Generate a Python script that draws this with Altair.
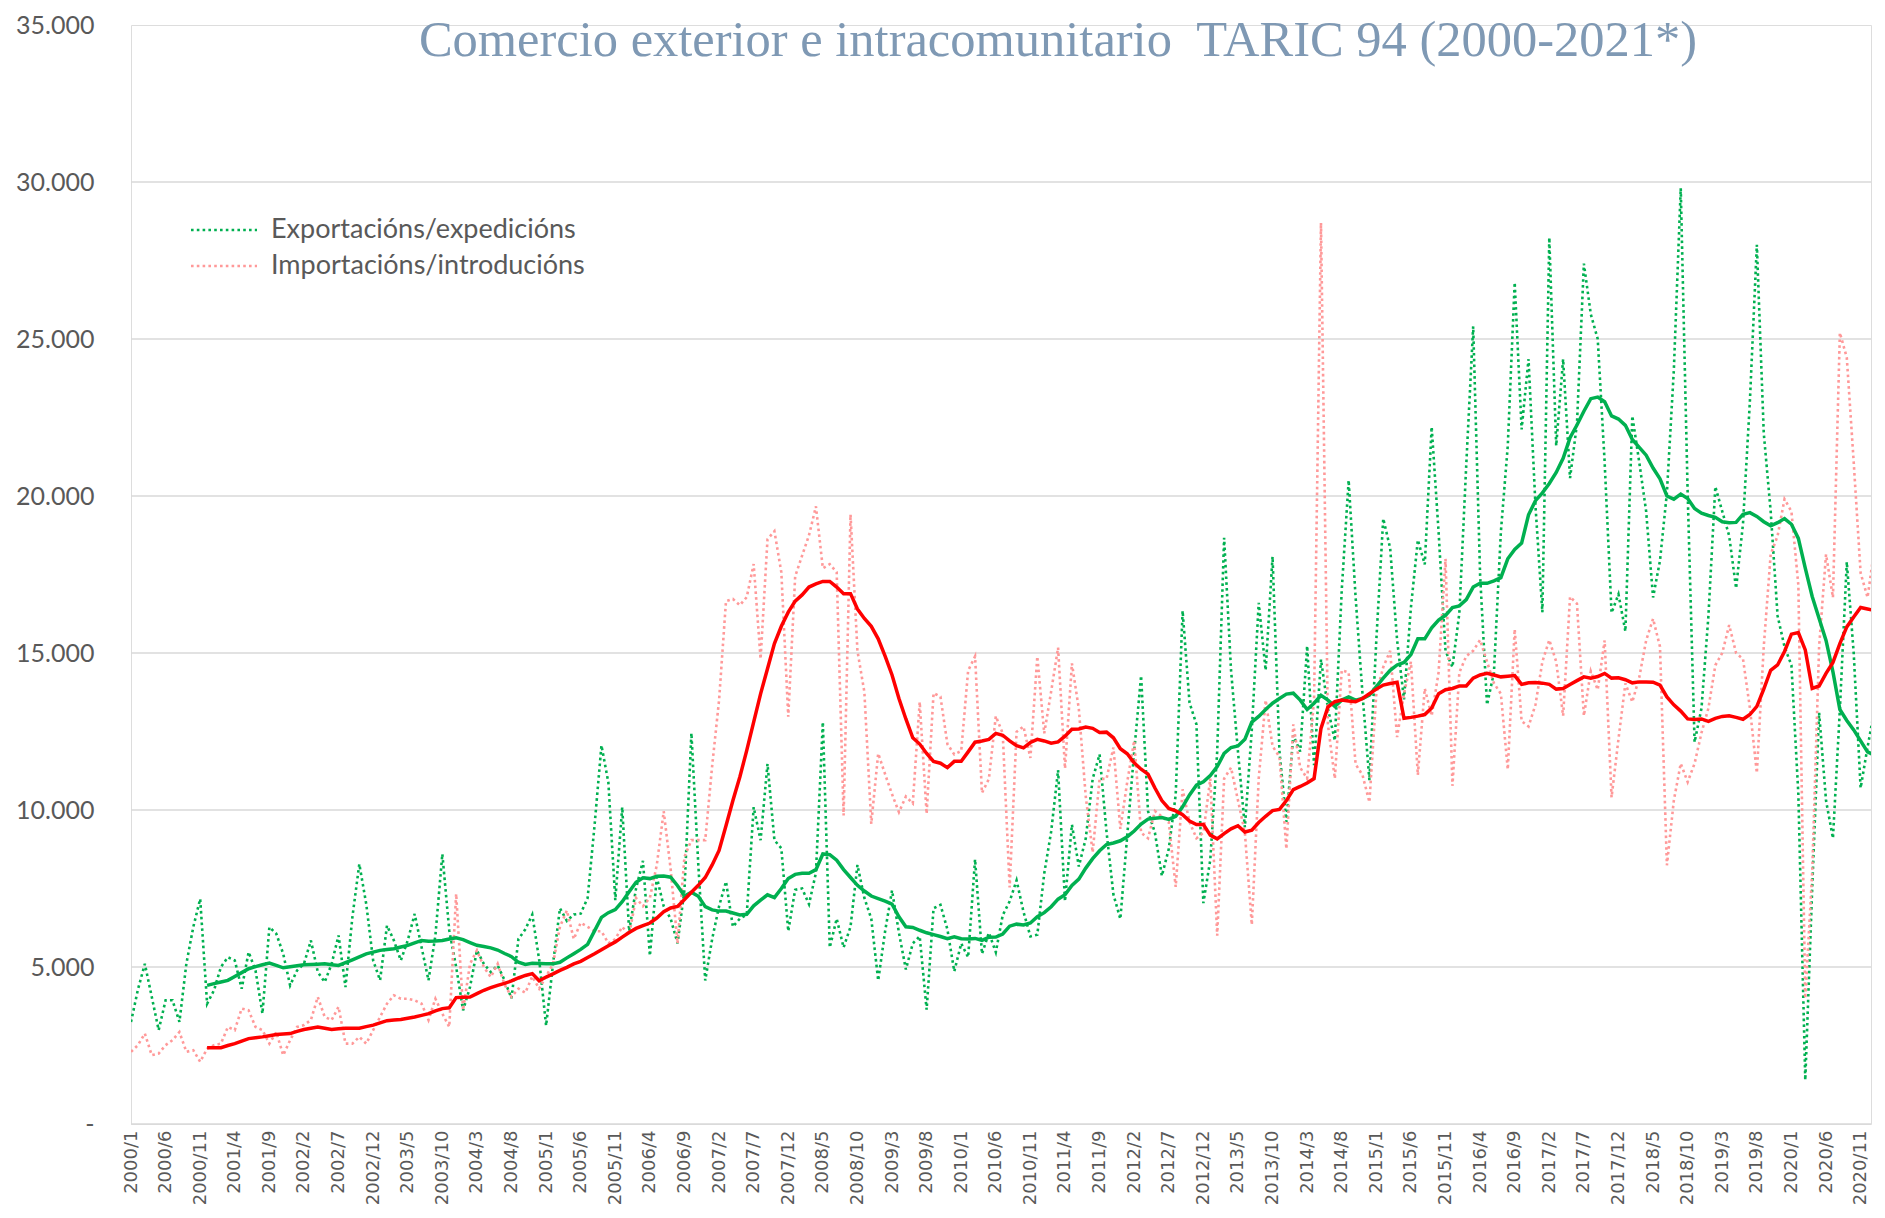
import altair as alt
import pandas as pd

# ---------------- data ----------------
first_year = 2000
series_names = ["Exportacións/expedicións", "Importacións/introducións"]
# the two spaces before "TARIC" are kept visible with a no-break space
title_text = "Comercio exterior e intracomunitario\u00a0 TARIC 94 (2000-2021*)"

# monthly values, index 0 = 2000/1
exports = [
    3250, 4280, 5100, 4050, 2990, 3940, 3940, 3250, 5100, 6270,
    7170, 3830, 4260, 5000, 5310, 5210, 4310, 5475, 4890, 3515,
    6270, 6060, 5420, 4415, 4890, 5100, 5845, 4840, 4520, 5100,
    6005, 4360, 6590, 8280, 7010, 5210, 4575, 6320, 5845, 5210,
    5845, 6690, 5630, 4575, 6005, 8600, 6165, 5000, 3620, 4360,
    5530, 5100, 4840, 5050, 4575, 4000, 5890, 6200, 6670, 5230,
    3130, 5100, 6870, 6470, 6670, 6700, 7200, 9500, 12060, 10875,
    7130, 10090, 6140, 7500, 8380, 5360, 7855, 6935, 6540, 5755,
    7460, 12450, 8250, 4570, 5890, 6935, 7720, 6280, 6540, 6670,
    10090, 9040, 11470, 9040, 8780, 6140, 7460, 7500, 7000, 8000,
    12800, 5620, 6540, 5620, 6280, 8250, 7200, 6540, 4570, 6140,
    7440, 6090, 4920, 5750, 5975, 3640, 6870, 6980, 6200, 4860,
    5750, 5310, 8430, 5420, 6090, 5470, 6650, 7090, 7760, 6760,
    5975, 6030, 7980, 9310, 11270, 7090, 9535, 8200, 9095, 10990,
    11770, 9310, 7310, 6530, 9200, 11860, 14275, 9965, 9275, 7900,
    8760, 10480, 16345, 13415, 12725, 7035, 8415, 11860, 18670, 14450,
    11860, 9450, 12550, 16600, 14450, 18070, 11860, 9620, 12380, 11860,
    15225, 11430, 14795, 13240, 12210, 17000, 20500, 16790, 13700, 10945,
    15415, 19280, 18340, 15415, 13520, 16450, 18600, 17820, 22200, 18850,
    15070, 14550, 16270, 21000, 25400, 17480, 13350, 14380, 18850, 21600,
    26800, 22120, 24360, 19700, 16300, 28230, 21600, 24360, 20570, 22300,
    27400, 25790, 25000, 21080, 16280, 16870, 15690, 22550, 21080, 19510,
    16770, 17940, 20100, 24000, 29800, 20100, 12160, 13240, 16180, 20300,
    19510, 18730, 17060, 19120, 23040, 28000, 22000, 19510, 16180, 15200,
    14610, 10500, 1400, 7500, 13100, 10300, 9100, 13200, 17900, 15000,
    10700, 12000, 13200,
]

imports = [
    2300, 2510, 2880, 2190, 2245, 2510, 2670, 2930, 2300, 2350,
    1980, 2400, 2510, 2560, 3090, 2990, 3675, 3620, 3090, 2990,
    2560, 2930, 2190, 2670, 3090, 3150, 3310, 4045, 3410, 3310,
    3730, 2560, 2560, 2775, 2560, 2990, 3410, 3830, 4100, 3990,
    3990, 3940, 3830, 3310, 3990, 3515, 3090, 7330, 3620, 5100,
    5530, 5000, 4680, 5100, 4440, 4050, 4310, 4180, 4700, 4310,
    4700, 5100, 6280, 6800, 5890, 6410, 6280, 6140, 6140, 5755,
    5890, 6280, 6020, 7200, 6935, 7200, 8250, 9960, 8120, 5755,
    8510, 9040, 9040, 9040, 11400, 13500, 16650, 16720, 16520, 16780,
    17830, 14810, 18620, 18880, 17570, 12970, 17440, 18100, 18750, 19670,
    17700, 17830, 17570, 9825, 19410, 15070, 13760, 9560, 11800, 11140,
    10500, 9930, 10430, 10210, 13440, 9880, 13720, 13610, 12100, 11770,
    11880, 14440, 14890, 10545, 10990, 12990, 12440, 7535, 12490, 12660,
    11660, 14890, 12440, 13775, 15170, 11320, 14670, 13220, 10430, 8650,
    10990, 10990, 11990, 9400, 10900, 12210, 9275, 9100, 9965, 9790,
    9620, 7550, 10660, 9620, 9100, 9275, 11000, 6000, 11000, 11350,
    10310, 9275, 6345, 11000, 13500, 12035, 11690, 8760, 12725, 11350,
    11000, 13500, 28700, 12725, 11000, 14450, 14380, 11460, 11115, 10250,
    13700, 14550, 15070, 12320, 13700, 14720, 11115, 13870, 13000, 14380,
    18000, 10770, 14380, 14900, 15070, 15415, 14720, 14040, 13700, 11290,
    15760, 12830, 12660, 13350, 14720, 15415, 14720, 13000, 16790, 16570,
    13000, 14420, 13830, 15400, 10400, 12260, 14030, 13440, 14220, 15400,
    16090, 15200, 8240, 10300, 11480, 10890, 11480, 12460, 13240, 14610,
    15000, 15890, 15000, 14810, 13240, 11180, 15200, 18140, 18730, 19900,
    19510, 17160, 4000, 8000, 15200, 18140, 16770, 25200, 24410, 21080,
    17550, 16770, 18340,
]

# 12-month moving averages as drawn, starting at 2000/12 (index 11)
ma_start = 11
exports_ma = [
    4415, 4470, 4520, 4575, 4700, 4820, 4945, 5010, 5070, 5125,
    5050, 4975, 5010, 5040, 5070, 5080, 5090, 5100, 5075, 5050,
    5140, 5230, 5325, 5420, 5475, 5530, 5555, 5580, 5635, 5690,
    5770, 5845, 5820, 5830, 5845, 5890, 5930, 5870, 5780, 5690,
    5650, 5610, 5540, 5430, 5330, 5150, 5080, 5120, 5110, 5100,
    5100, 5150, 5290, 5425, 5560, 5720, 6150, 6580, 6730, 6830,
    7080, 7400, 7700, 7840, 7815, 7890, 7900, 7860, 7590, 7260,
    7380, 7250, 6920, 6820, 6780, 6780, 6720, 6660, 6680, 6950,
    7130, 7300, 7210, 7500, 7820, 7950, 7985, 7985, 8100, 8600,
    8580, 8400, 8100, 7850, 7600, 7420, 7260, 7180, 7100, 7000,
    6600, 6280, 6260, 6170, 6090, 6030, 5970, 5900, 5960, 5900,
    5890, 5910, 5850, 5950, 5955, 6050, 6300, 6365, 6340, 6400,
    6600, 6730, 6920, 7160, 7300, 7600, 7800, 8150, 8450, 8700,
    8900, 8950, 9020, 9150, 9330, 9550, 9710, 9740, 9760, 9700,
    9800, 10100, 10480, 10790, 10900, 11100, 11380, 11800, 11990, 12040,
    12250, 12800, 12980, 13200, 13400, 13550, 13690, 13720, 13500, 13200,
    13400, 13650, 13500, 13300, 13500, 13600, 13500, 13550, 13660, 13930,
    14200, 14450, 14620, 14700, 14950, 15450, 15450, 15800, 16050, 16200,
    16450, 16500, 16700, 17100, 17220, 17220, 17300, 17400, 18000, 18300,
    18500, 19400, 19850, 20100, 20400, 20750, 21200, 21860, 22260, 22700,
    23100, 23150, 23000, 22550, 22450, 22250, 21800, 21550, 21300, 20890,
    20550, 20000, 19900, 20060, 19920, 19600, 19450, 19380, 19320, 19180,
    19150, 19160, 19420, 19470, 19350, 19180, 19050, 19150, 19280, 19100,
    18650, 17700, 16800, 16100, 15400, 14400, 13200, 12850, 12550, 12200,
    11850, 11750,
]

imports_ma = [
    2430, 2430, 2430, 2500, 2560, 2640, 2720, 2750, 2775, 2810,
    2850, 2865, 2880, 2950, 3010, 3050, 3090, 3050, 3010, 3030,
    3050, 3050, 3050, 3100, 3150, 3220, 3290, 3310, 3330, 3370,
    3410, 3460, 3515, 3600, 3675, 3700, 4025, 4035, 4045, 4150,
    4260, 4340, 4415, 4480, 4555, 4650, 4730, 4790, 4560, 4680,
    4780, 4890, 4990, 5100, 5180, 5300, 5420, 5550, 5680, 5800,
    5950, 6100, 6230, 6320, 6400, 6560, 6760, 6880, 6930, 7150,
    7380, 7600, 7850, 8250, 8710, 9500, 10300, 11050, 11900, 12800,
    13700, 14500, 15300, 15850, 16300, 16650, 16850, 17100, 17200, 17280,
    17280, 17100, 16890, 16890, 16400, 16100, 15850, 15450, 14900, 14300,
    13550, 12900, 12300, 12100, 11800, 11550, 11490, 11350, 11550, 11550,
    11850, 12160, 12200, 12250, 12440, 12380, 12200, 12050, 11980, 12150,
    12250, 12200, 12125, 12170, 12350, 12570, 12580, 12640, 12600, 12470,
    12480, 12300, 11950, 11790, 11500, 11300, 11140, 10700, 10300, 10050,
    9970, 9850, 9650, 9535, 9535, 9200, 9080, 9250, 9400, 9500,
    9300, 9360, 9600, 9800, 9980, 10020, 10300, 10650, 10750, 10860,
    11000, 12600, 13275, 13450, 13500, 13470, 13450, 13550, 13700, 13850,
    13980, 14030, 14070, 12920, 12950, 12990, 13040, 13250, 13700, 13830,
    13870, 13950, 13950, 14200, 14300, 14350, 14300, 14240, 14260, 14280,
    14000, 14050, 14060, 14040, 14000, 13850, 13870, 14000, 14120, 14240,
    14200, 14250, 14350, 14200, 14210, 14150, 14050, 14080, 14080, 14070,
    13980, 13600, 13350, 13150, 12900, 12880, 12900, 12820, 12920, 12980,
    13000, 12950, 12890, 13040, 13300, 13850, 14450, 14620, 15050, 15600,
    15650, 15100, 13870, 13950, 14350, 14700, 15300, 15830, 16150, 16450,
    16400, 16350,
]

grid_values = [0, 5000, 10000, 15000, 20000, 25000, 30000]
y_tick_values = [0, 5000, 10000, 15000, 20000, 25000, 30000, 35000]
x_tick_values = list(range(0, 251, 5))


def frame(values, start):
    return pd.DataFrame({"idx": list(range(start, start + len(values))), "value": values})


# ---------------- styling ----------------
W, H = 1740, 1099
GREEN = "#00B050"
PINK = "#FF9999"
RED = "#FF0000"
TEXT_GREY = "#595959"
DOT = [2.6, 3.2]

x_scale = alt.Scale(domain=[0, 251.5], nice=False, zero=False)
y_scale = alt.Scale(domain=[0, 35000], nice=False, zero=True)

x_axis = alt.Axis(
    values=x_tick_values,
    labelExpr=f"floor(datum.value/12)+{first_year} + '/' + (datum.value%12+1)",
    labelAngle=270,
    labelFont="DejaVu Sans",
    labelFontSize=18,
    labelColor=TEXT_GREY,
    labelPadding=6,
    labelOverlap=False,
    labelFlush=False,
    ticks=False,
    domain=False,
    grid=False,
    title=None,
)
y_axis = alt.Axis(
    values=y_tick_values,
    labelExpr="datum.value == 0 ? '-' : replace(format(datum.value, ','), ',', '.')",
    labelFont="Lato",
    labelFontSize=25,
    labelColor=TEXT_GREY,
    labelPadding=37,
    labelFlush=False,
    labelOverlap=False,
    ticks=False,
    domain=False,
    grid=False,
    title=None,
)

X = alt.X("idx:Q", scale=x_scale, axis=x_axis)
Y = alt.Y("value:Q", scale=y_scale, axis=y_axis)

grid = alt.Chart(pd.DataFrame({"value": grid_values})).mark_rule(
    color="#D9D9D9", strokeWidth=1.5
).encode(y=Y)


def dotted(values, colour):
    return alt.Chart(frame(values, 0)).mark_line(
        color=colour, strokeWidth=2.6, strokeDash=DOT, clip=True
    ).encode(x=X, y=Y)


def solid(values, colour):
    return alt.Chart(frame(values, ma_start)).mark_line(
        color=colour, strokeWidth=3.5, clip=True
    ).encode(x=X, y=Y)


exp_raw = dotted(exports, GREEN)
imp_raw = dotted(imports, PINK)
exp_ma = solid(exports_ma, GREEN)
imp_ma = solid(imports_ma, RED)

# legend (top-left, inside the plot)
legend_layers = []
for k, (name, colour) in enumerate(zip(series_names, [GREEN, PINK])):
    ypos = 205 + 36 * k
    one = pd.DataFrame({"label": [name]})
    legend_layers.append(
        alt.Chart(one).mark_rule(color=colour, strokeWidth=2.6, strokeDash=DOT).encode(
            x=alt.value(60), x2=alt.value(126), y=alt.value(ypos)
        )
    )
    legend_layers.append(
        alt.Chart(one).mark_text(
            align="left", baseline="middle", font="Lato", fontSize=27, color=TEXT_GREY
        ).encode(x=alt.value(140), y=alt.value(ypos), text="label:N")
    )

title = alt.Chart(pd.DataFrame({"t": [title_text]})).mark_text(
    align="center", baseline="alphabetic", font="Liberation Serif", fontSize=50.5, color="#7F99B4"
).encode(x=alt.value(927), y=alt.value(31), text="t:N")

chart = (
    alt.layer(grid, exp_raw, imp_raw, exp_ma, imp_ma, *legend_layers, title)
    .properties(width=W, height=H, padding={"left": 7, "top": 5, "right": 0, "bottom": 0})
    .configure_view(stroke="transparent")
    .configure(background="white")
)

chart.save("out.html", embed_options={"renderer": "svg", "actions": False})
